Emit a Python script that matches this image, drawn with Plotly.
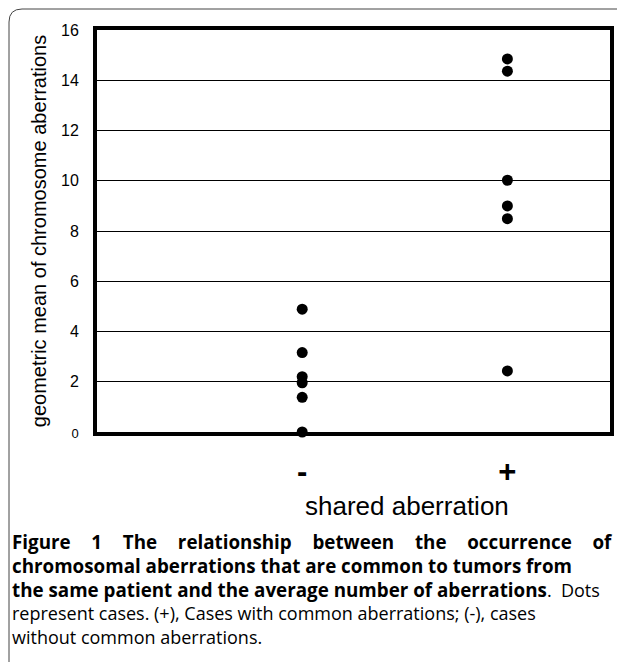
import plotly.graph_objects as go

# ---- data ----
categories = ["-", "+"]
cat_pos = [1, 2]
minus_values = [4.89, 3.16, 2.20, 1.96, 1.38, 0.0]
plus_values = [14.85, 14.36, 10.02, 9.0, 8.49, 2.43]
y_ticks = [0, 2, 4, 6, 8, 10, 12, 14, 16]
y_ticktext = ["<span style='font-size:13px'>0</span>"] + [str(v) for v in y_ticks[1:]]

# page offset from the default body margin of the html page
OFF = 8
W, H = 625 - OFF, 666 - OFF
# plot frame in page pixels: x 97..610, y 30..432
L, R, T, B = 97 - OFF, 15, 30 - OFF, 666 - 432
PW, PH = W - L - R, H - T - B

def px(x):
    return (x - OFF - L) / PW

def py(y):
    return (H - B - (y - OFF)) / PH

fig = go.Figure()
fig.add_trace(go.Scatter(
    x=[cat_pos[0]] * len(minus_values), y=minus_values, mode="markers",
    marker=dict(color="black", size=11), showlegend=False, cliponaxis=False))
fig.add_trace(go.Scatter(
    x=[cat_pos[1]] * len(plus_values), y=plus_values, mode="markers",
    marker=dict(color="black", size=11), showlegend=False, cliponaxis=False))

fig.update_layout(
    width=W, height=H,
    margin=dict(l=L, r=R, t=T, b=B),
    paper_bgcolor="white", plot_bgcolor="white",
    font=dict(family="Arial, Liberation Sans, sans-serif", color="black"),
    xaxis=dict(range=[0, 2.5], tickvals=cat_pos, ticktext=categories,
               tickfont=dict(size=31, family="Arial, Liberation Sans", weight="bold"),
               showgrid=False, zeroline=False, showline=True, linewidth=4,
               linecolor="black", mirror=True, ticks="", ticklabelstandoff=9),
    yaxis=dict(range=[0, 16], tickvals=y_ticks, ticktext=y_ticktext,
               tickfont=dict(size=16), showgrid=True, gridcolor="black", gridwidth=1,
               zeroline=False, showline=True, linewidth=4, linecolor="black",
               mirror=True, ticks="", ticklabelstandoff=11,
               title=dict(text="geometric mean of chromosome aberrations",
                          font=dict(size=20), standoff=10)),
)

# x-axis title
fig.add_annotation(x=px(407), y=py(506), xref="paper", yref="paper",
                   text="shared aberration", showarrow=False,
                   xanchor="center", yanchor="middle",
                   font=dict(family="Arial, Liberation Sans, sans-serif", size=26, color="black"))

# outer border (rounded top-left corner)
fig.add_shape(type="path", xref="paper", yref="paper",
              path=f"M {px(9)},{py(662)} L {px(9)},{py(22)} Q {px(9)},{py(9)} {px(22)},{py(9)} L {px(623)},{py(9)}",
              line=dict(color="#444444", width=1))

# caption (one text block; first line justified with spacing)
cap_font = "Open Sans, Noto Sans, sans-serif"
base_size = 18.3
bold_size = 18.8
reg_size = 18
line1 = ["Figure", "1", "The", "relationship", "between", "the", "occurrence", "of"]
bw = {'a': .586, 'b': .625, 'c': .514, 'd': .625, 'e': .602, 'f': .395, 'g': .559, 'h': .653,
      'i': .310, 'l': .310, 'n': .653, 'o': .612, 'p': .625, 'r': .443, 's': .498, 't': .432,
      'u': .653, 'w': .829, 'F': .575, 'T': .561, '1': .571, 'y': .565, 'm': .979}
widths = [sum(bw.get(c, .6) for c in w) * bold_size for w in line1]
gap = (613 - 10 - sum(widths)) / (len(line1) - 1)
sp_w = 0.26 * bold_size
n_full = int(gap // sp_w)
rest = gap - n_full * sp_w
gap_html = "&nbsp;" * n_full
if rest > 0.5:
    gap_html += f"<span style='font-size:{rest / 0.26:.1f}px'>&nbsp;</span>"
l1 = gap_html.join(f"<b style='font-size:{bold_size}px'>{w}</b>" for w in line1)
l2 = f"<b style='font-size:{bold_size}px'>chromosomal aberrations that are common to tumors from</b>"
l3 = (f"<b style='font-size:{bold_size}px'>the same patient and the average number of aberrations</b>"
      f"<span style='font-size:{reg_size}px'>.&nbsp;&nbsp;Dots</span>")
l4 = f"<span style='font-size:{reg_size}px'>represent cases. (+), Cases with common aberrations; (-), cases</span>"
l5 = f"<span style='font-size:{reg_size}px'>without common aberrations.</span>"
fig.add_annotation(x=px(10), y=py(588.5), xref="paper", yref="paper",
                   text="<br>".join([l1, l2, l3, l4, l5]), align="left",
                   showarrow=False, xanchor="left", yanchor="middle",
                   font=dict(family=cap_font, size=base_size, color="black"))

fig.write_html("out.html")
